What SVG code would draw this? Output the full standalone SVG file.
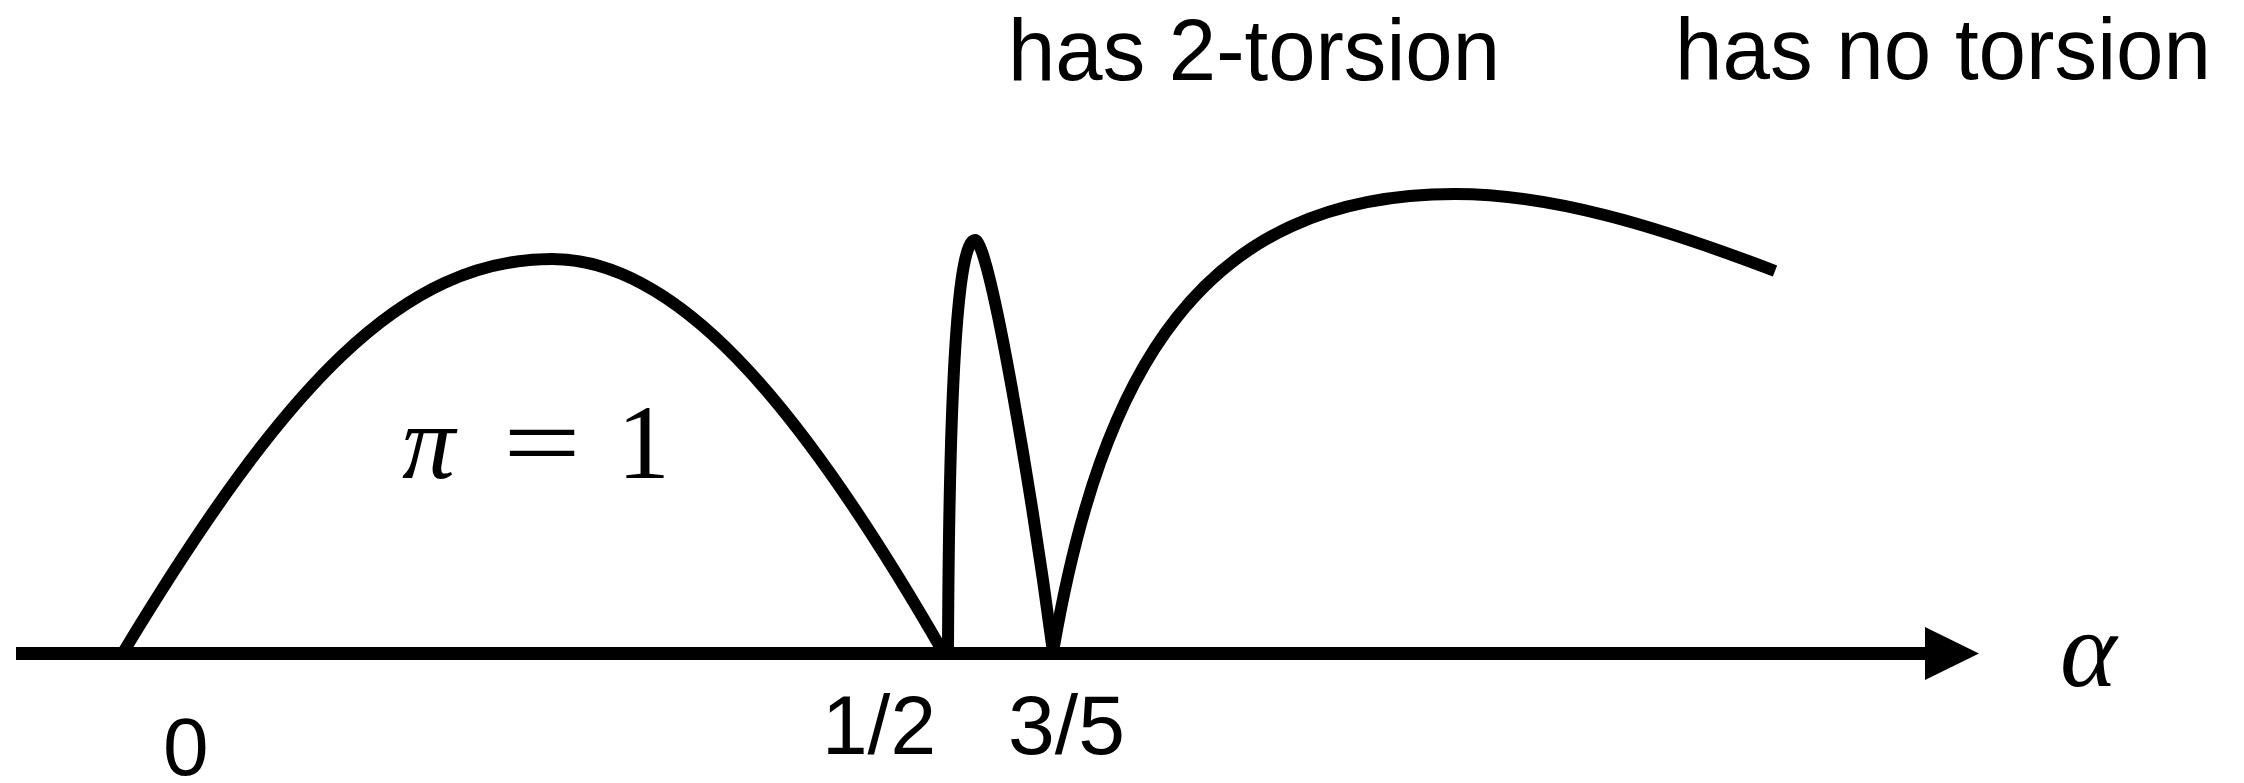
<svg xmlns="http://www.w3.org/2000/svg" width="2244" height="783" viewBox="0 0 2244 783">
<style>
.curve{fill:none;stroke:#000;stroke-width:12;stroke-linecap:butt;stroke-linejoin:round}
.lbl{font-family:"Liberation Sans",Arial,sans-serif;fill:#000}
.math{font-family:"Liberation Serif","Times New Roman",serif;fill:#000}
</style>
<rect width="2244" height="783" fill="#fff"/>
<g id="axis">
<line x1="16" y1="653.5" x2="1930" y2="653.5" stroke="#000" stroke-width="13"/>
<polygon points="1925,627 1979,653.5 1925,680" fill="#000"/>
<text class="math" x="2060" y="686" font-size="108" font-style="italic">α</text>
</g>
<g id="curves">
<path class="curve" d="M124,651 C285,385 402,259 552,259 C672,259 793,391 943,652"/>
<path class="curve" d="M948,652 C949,380 958,240 975,240 C990,240 1033,502 1053,652"/>
<path class="curve" d="M1053,652 C1101,372 1200,194 1455,194 C1550,194 1655,225 1775,271"/>
</g>
<g id="region-label">
<text class="math" font-size="106"><tspan x="402" y="478" font-style="italic">π</tspan><tspan x="503" y="478" textLength="78" lengthAdjust="spacingAndGlyphs">=</tspan><tspan x="617" y="478">1</tspan></text>
</g>
<g id="top-labels">
<text class="lbl" x="1008" y="80" font-size="88" textLength="492" lengthAdjust="spacingAndGlyphs">has 2-torsion</text>
<text class="lbl" x="1675" y="79" font-size="88" textLength="536" lengthAdjust="spacingAndGlyphs">has no torsion</text>
</g>
<g id="ticks">
<text class="lbl" x="163" y="775" font-size="82">0</text>
<text class="lbl" x="822" y="754" font-size="84" textLength="114" lengthAdjust="spacingAndGlyphs">1/2</text>
<text class="lbl" x="1008" y="754" font-size="84" textLength="117" lengthAdjust="spacingAndGlyphs">3/5</text>
</g>
</svg>
